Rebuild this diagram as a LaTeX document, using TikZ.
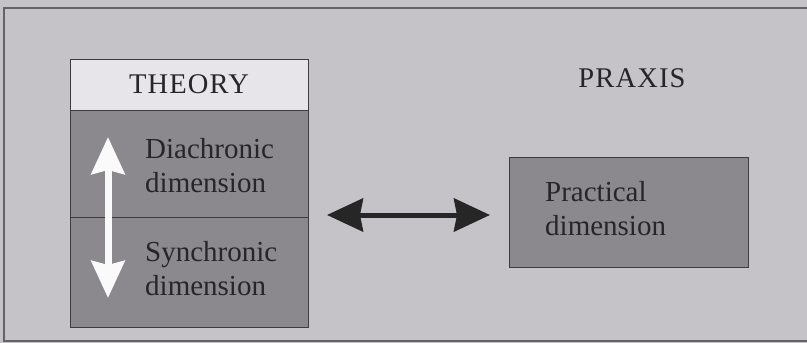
\documentclass[tikz,border=0pt]{standalone}
\usepackage{fontspec}
\setmainfont{Liberation Serif}
\usetikzlibrary{arrows.meta}
\definecolor{bgc}{HTML}{C5C3C8}
\definecolor{boxc}{HTML}{8B898E}
\definecolor{hdrc}{HTML}{E7E5E9}
\definecolor{linec}{HTML}{3C3B3E}
\definecolor{txtc}{HTML}{262527}
\tikzset{
  panel/.style={draw=linec, line width=1.3pt, fill=boxc, inner sep=0pt, anchor=north west},
  header/.style={draw=linec, line width=1.3pt, fill=hdrc, inner sep=0pt, anchor=north west},
  label/.style={inner sep=0pt, align=left, text=txtc, anchor=base west, font=\fontsize{29}{34}\selectfont},
  title/.style={inner sep=0pt, text=txtc, anchor=base, font=\fontsize{28.5}{30}\selectfont\addfontfeature{LetterSpace=4}},
  whitearrow/.style={draw=white!96!gray, line width=7pt, {Stealth[width=33pt,length=37pt,inset=4pt]}-{Stealth[width=33pt,length=37pt,inset=4pt]}},
  darkarrow/.style={draw=black!85, line width=5pt, {Stealth[width=33pt,length=36pt,inset=3pt]}-{Stealth[width=33pt,length=36pt,inset=3pt]}}
}
\begin{document}
\begin{tikzpicture}[x=1pt,y=-1pt]
\fill[bgc] (0,0) rectangle (807,343);
\useasboundingbox (0,0) rectangle (807,343);
\draw[linec!80, line width=1.5pt] (820,8) -- (4,8) -- (4,341) -- (820,341);
% theory column
\node[header, minimum width=238pt, minimum height=51pt] (theory) at (70,59) {};
\node[title] (theorylbl) at (189,93) {THEORY};
\node[panel, minimum width=238pt, minimum height=107pt] (dia) at (70,110) {};
\node[panel, minimum width=238pt, minimum height=110pt] (syn) at (70,217) {};
\node[label] (dialbl) at (145,192) {Diachronic\\dimension};
\node[label] (synlbl) at (145,295) {Synchronic\\dimension};
\coordinate (up) at (108,137);
\coordinate (down) at (108,298);
\draw[whitearrow] (up) -- (down);
% praxis
\node[title] (praxis) at (632,87) {PRAXIS};
\node[panel, minimum width=239pt, minimum height=110pt] (prac) at (509,157) {};
\node[label] (praclbl) at (545,235) {Practical\\dimension};
% connector
\coordinate (al) at (327,215);
\coordinate (ar) at (490,215);
\draw[darkarrow] (al) -- (ar);
\end{tikzpicture}
\end{document}
